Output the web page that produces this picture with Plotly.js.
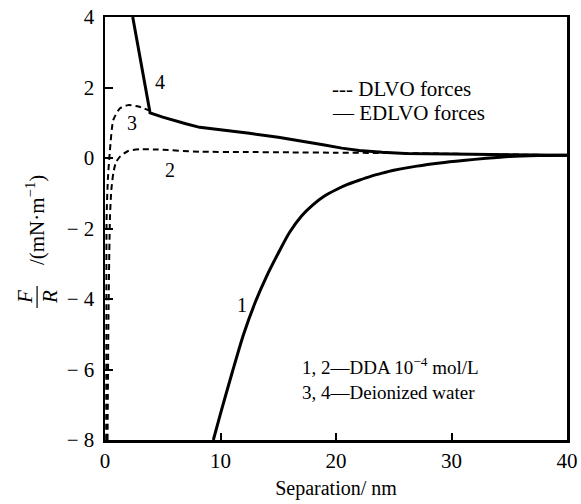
<!DOCTYPE html>
<html>
<head>
<meta charset="utf-8">
<script src="https://cdn.plot.ly/plotly-3.0.1.min.js"></script>
<style>html,body{margin:0;padding:0;background:#fff;}#chart{width:581px;height:504px;}</style>
</head>
<body>
<div id="chart"></div>
<script>
// Curve 1: EDLVO, DDA 1e-4 mol/L (solid)
const x1 = [9.38, 10, 11, 12, 13, 14, 15, 16, 17, 18, 19, 20, 21, 22, 23, 24, 25, 27, 29, 31, 33, 35, 37.5, 40];
const y1 = [-8.0, -7.25, -6.1, -5.0, -4.1, -3.35, -2.7, -2.1, -1.65, -1.33, -1.08, -0.9, -0.75, -0.63, -0.52, -0.43, -0.35, -0.23, -0.14, -0.07, -0.01, 0.04, 0.07, 0.08];
// Curve 2: DLVO, DDA 1e-4 mol/L (dashed)
const x2 = [0.22, 0.3, 0.43, 0.55, 0.72, 0.95, 1.3, 2.0, 3.0, 4.5, 8.2, 12.0, 16.0, 20.0, 25.5, 30.0, 35.0, 40.0];
const y2 = [-8.0, -4.5, -1.67, -0.9, -0.43, -0.12, 0.04, 0.2, 0.25, 0.24, 0.18, 0.17, 0.16, 0.15, 0.14, 0.12, 0.1, 0.08];
// Curve 3: DLVO, deionized water (dashed)
const x3 = [0.1, 0.12, 0.14, 0.25, 0.43, 0.72, 1.3, 2.0, 2.9, 3.75];
const y3 = [-8.0, -4.5, -1.67, -0.6, 0.23, 1.08, 1.41, 1.5, 1.46, 1.36];
// Curve 4: EDLVO, deionized water (solid)
const x4 = [2.4, 3.9, 5, 6, 7, 8.2, 10, 12.5, 15, 17, 19, 20.5, 22, 24, 26, 30, 35, 40];
const y4 = [4.0, 1.28, 1.16, 1.06, 0.97, 0.87, 0.79, 0.70, 0.59, 0.49, 0.37, 0.28, 0.21, 0.16, 0.13, 0.11, 0.09, 0.08];

const curveLabels = ['1', '2', '3', '4'];
const labelX = [11.83, 5.63, 2.3, 4.76];
const labelY = [-4.17, -0.34, 0.98, 2.16];

const yTickVals = [-8, -6, -4, -2, 0, 2, 4];
const yTickText = ['− 8', '− 6', '− 4', '− 2', '0', '2', '4'];
const xTickVals = [0, 10, 20, 30, 40];
const xTickText = ['0', '10', '20', '30', '40'];

const legendTexts = ['--- DLVO forces', '— EDLVO forces'];
const noteTexts = ['1, 2—DDA 10<sup>−4</sup> mol/L', '3, 4—Deionized water'];
const xTitle = 'Separation/ nm';

const FONT = 'Liberation Serif';
const solid = {color: '#000', width: 3};
const dashed = {color: '#000', width: 2, dash: '6px,4px'};

const traces = [
  {x: x1, y: y1, mode: 'lines', line: Object.assign({shape: 'spline', smoothing: 0.8}, solid), showlegend: false},
  {x: x2, y: y2, mode: 'lines', line: Object.assign({shape: 'spline', smoothing: 0.6}, dashed), showlegend: false},
  {x: x3, y: y3, mode: 'lines', line: Object.assign({shape: 'spline', smoothing: 0.6}, dashed), showlegend: false},
  {x: x4, y: y4, mode: 'lines', line: Object.assign({shape: 'linear'}, solid), showlegend: false}
];

function txt(size) { return {family: FONT, size: size, color: '#000'}; }
const annotations = [];
curveLabels.forEach((t, i) => annotations.push({
  x: labelX[i], y: labelY[i], xref: 'x', yref: 'y', text: t, showarrow: false, font: txt(20)
}));
annotations.push({x: 0.487, y: 0.829, xref: 'paper', yref: 'paper', xanchor: 'left', yanchor: 'middle',
  text: legendTexts[0], showarrow: false, font: txt(21)});
annotations.push({x: 0.487, y: 0.773, xref: 'paper', yref: 'paper', xanchor: 'left', yanchor: 'middle',
  text: legendTexts[1], showarrow: false, font: txt(21)});
annotations.push({x: 0.422, y: 0.146, xref: 'paper', yref: 'paper', xanchor: 'left', yanchor: 'middle', align: 'left',
  text: noteTexts.join('<br>'), showarrow: false, font: txt(19)});
// Y axis title: F/R fraction + unit
annotations.push({x: -0.1515, y: 0.52, xref: 'paper', yref: 'paper', xanchor: 'center', yanchor: 'middle', textangle: -90,
  text: '/(mN·m<sup>−1</sup>)', showarrow: false, font: txt(21)});
annotations.push({x: -0.173, y: 0.338, xref: 'paper', yref: 'paper', xanchor: 'center', yanchor: 'middle', textangle: -90,
  text: '<i>F</i>', showarrow: false, font: txt(21)});
annotations.push({x: -0.119, y: 0.338, xref: 'paper', yref: 'paper', xanchor: 'center', yanchor: 'middle', textangle: -90,
  text: '<i>R</i>', showarrow: false, font: txt(21)});

const layout = {
  width: 581, height: 504,
  margin: {l: 105, r: 14, t: 17, b: 64},
  paper_bgcolor: '#fff', plot_bgcolor: '#fff',
  showlegend: false,
  font: txt(20),
  xaxis: {
    range: [0, 40], tickvals: xTickVals, ticktext: xTickText,
    ticks: 'inside', ticklen: 7, tickwidth: 2, tickcolor: '#000',
    showline: true, linewidth: 2.5, linecolor: '#000', mirror: true,
    showgrid: false, zeroline: false,
    tickfont: txt(21),
    title: {text: xTitle, font: txt(20), standoff: 10}
  },
  yaxis: {
    range: [-8, 4], tickvals: yTickVals, ticktext: yTickText,
    ticks: 'inside', ticklen: 8, tickwidth: 2, tickcolor: '#000',
    showline: true, linewidth: 2.5, linecolor: '#000', mirror: true,
    showgrid: false, zeroline: false, ticklabelstandoff: 4,
    tickfont: txt(21)
  },
  annotations: annotations,
  shapes: [{type: 'line', xref: 'paper', yref: 'paper', x0: -0.147, x1: -0.147, y0: 0.312, y1: 0.364,
    line: {color: '#000', width: 1.2}}]
};

Plotly.newPlot('chart', traces, layout, {staticPlot: true, displayModeBar: false});
</script>
</body>
</html>
